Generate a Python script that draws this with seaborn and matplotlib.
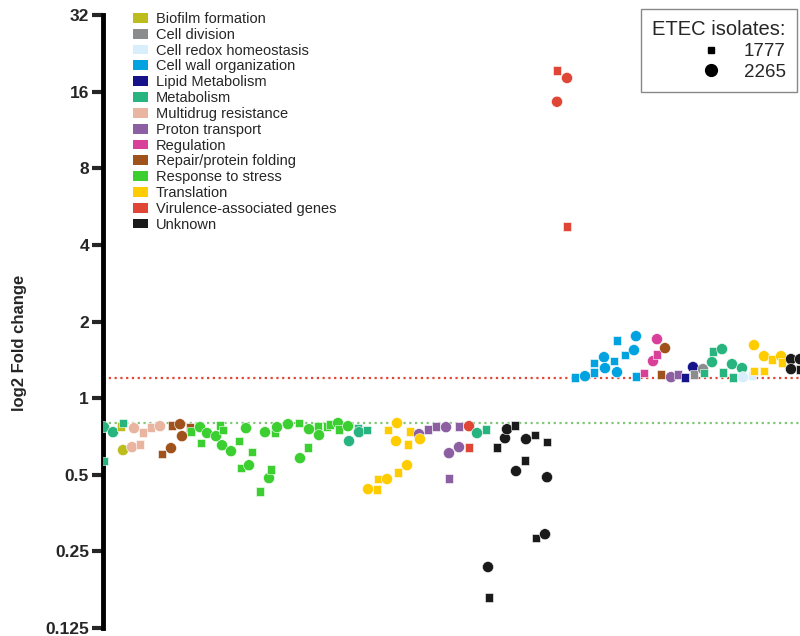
import numpy as np
import pandas as pd
import matplotlib
matplotlib.use("Agg")
import matplotlib.pyplot as plt
from matplotlib.patches import Patch
from matplotlib.lines import Line2D
from matplotlib.ticker import NullLocator, FixedLocator, FixedFormatter
import seaborn as sns

sns.set_style("ticks")
plt.rcParams['font.family'] = ['Liberation Sans', 'DejaVu Sans']

categories = ["Biofilm formation", "Cell division", "Cell redox homeostasis",
              "Cell wall organization", "Lipid Metabolism", "Metabolism",
              "Multidrug resistance", "Proton transport", "Regulation",
              "Repair/protein folding", "Response to stress", "Translation",
              "Virulence-associated genes", "Unknown"]
colors = ["#BCBC1C", "#8A8C8E", "#D8EEFA", "#00A3E0", "#15128A", "#27B47E",
          "#E9B5A1", "#8C5FA3", "#D8409A", "#A0521D", "#3CCF32", "#FFCC00",
          "#E04636", "#1A1A1A"]
isolates = ["1777", "2265"]

# gene position (x), fold change (y), category, isolate
metab_x = [4, 13, 23, 4, 258, 259, 267, 249, 377, 386, 604, 613, 622, 612, 623, 632, 633, 642]
metab_y = [0.769, 0.735, 0.798, 0.566, 0.762, 0.735, 0.749, 0.678, 0.729, 0.755,
           1.254, 1.530, 1.558, 1.385, 1.265, 1.360, 1.209, 1.312]
metab_i = ["2265", "2265", "1777", "1777", "1777", "2265", "1777", "2265", "2265", "1777",
           "1777", "1777", "2265", "2265", "1777", "2265", "1777", "2265"]

biofilm_x = [21, 23]
biofilm_y = [0.776, 0.625]
biofilm_i = ["1777", "2265"]

multi_x = [34, 43, 51, 60, 32, 40]
multi_y = [0.762, 0.735, 0.769, 0.776, 0.642, 0.659]
multi_i = ["2265", "1777", "1777", "2265", "2265", "1777"]

repair_x = [72, 80, 82, 90, 62, 71, 565, 561]
repair_y = [0.783, 0.790, 0.709, 0.769, 0.603, 0.636, 1.572, 1.242]
repair_i = ["1777", "2265", "2265", "1777", "1777", "2265", "2265", "1777"]

stress_x = [100, 91, 107, 120, 123, 116, 101, 122, 131, 139, 146, 152, 149, 141, 171, 169,
            160, 165, 175, 177, 188, 199, 209, 218, 227, 230, 219, 208, 200, 238, 239, 248]
stress_y = [0.769, 0.742, 0.729, 0.783, 0.749, 0.709, 0.666, 0.653, 0.619, 0.678, 0.762,
            0.614, 0.545, 0.531, 0.526, 0.485, 0.431, 0.735, 0.729, 0.769, 0.790, 0.798,
            0.755, 0.776, 0.776, 0.790, 0.716, 0.642, 0.581, 0.798, 0.755, 0.776]
stress_i = ["2265", "1777", "2265", "1777", "1777", "2265", "1777", "2265", "2265", "1777",
            "2265", "1777", "2265", "1777", "1777", "2265", "1777", "2265", "1777", "2265",
            "2265", "1777", "2265", "1777", "1777", "1777", "2265", "1777", "2265", "2265",
            "1777", "2265"]

transl_x = [297, 288, 310, 296, 308, 320, 307, 298, 287, 278, 268, 277,
            654, 654, 664, 664, 672, 681, 682]
transl_y = [0.798, 0.749, 0.742, 0.678, 0.659, 0.690, 0.545, 0.512, 0.481, 0.481, 0.439, 0.439,
            1.615, 1.277, 1.277, 1.462, 1.423, 1.462, 1.385]
transl_i = ["2265", "1777", "1777", "2265", "1777", "2265", "2265", "1777", "2265", "1777",
            "2265", "1777", "2265", "1777", "1777", "2265", "1777", "2265", "1777"]

proton_x = [319, 328, 336, 346, 359, 359, 349, 349, 571, 578]
proton_y = [0.722, 0.755, 0.776, 0.769, 0.776, 0.642, 0.608, 0.485, 1.209, 1.242]
proton_i = ["2265", "1777", "1777", "2265", "1777", "2265", "2265", "1777", "2265", "1777"]

vir_x = [369, 369, 457, 467, 457, 467]
vir_y = [0.776, 0.642, 19.4, 18.1, 14.6, 4.74]
vir_i = ["2265", "1777", "1777", "2265", "2265", "1777"]

unk_x = [415, 407, 405, 397, 426, 435, 447, 425, 416, 447, 445, 436, 388, 389, 691, 691, 700, 700]
unk_y = [0.783, 0.755, 0.696, 0.642, 0.690, 0.716, 0.672, 0.570, 0.517, 0.489, 0.292, 0.282,
         0.217, 0.165, 1.423, 1.300, 1.423, 1.300]
unk_i = ["1777", "2265", "2265", "1777", "2265", "1777", "1777", "1777", "2265", "2265",
         "2265", "1777", "2265", "1777", "2265", "2265", "2265", "1777"]

wall_x = [475, 485, 494, 494, 504, 505, 514, 517, 517, 525, 534, 536, 536]
wall_y = [1.209, 1.220, 1.265, 1.373, 1.449, 1.312, 1.398, 1.265, 1.690, 1.476, 1.544, 1.752, 1.220]
wall_i = ["1777", "2265", "1777", "1777", "2265", "2265", "1777", "2265", "1777", "1777",
          "2265", "2265", "1777"]

reg_x = [544, 557, 557, 553]
reg_y = [1.254, 1.705, 1.489, 1.398]
reg_i = ["1777", "2265", "1777", "2265"]

lipid_x = [585, 593]
lipid_y = [1.209, 1.324]
lipid_i = ["1777", "2265"]

div_x = [594, 603]
div_y = [1.242, 1.300]
div_i = ["1777", "2265"]

redox_x = [643, 652]
redox_y = [1.209, 1.231]
redox_i = ["2265", "1777"]

groups = [
    ("Metabolism", metab_x, metab_y, metab_i),
    ("Biofilm formation", biofilm_x, biofilm_y, biofilm_i),
    ("Multidrug resistance", multi_x, multi_y, multi_i),
    ("Repair/protein folding", repair_x, repair_y, repair_i),
    ("Response to stress", stress_x, stress_y, stress_i),
    ("Translation", transl_x, transl_y, transl_i),
    ("Proton transport", proton_x, proton_y, proton_i),
    ("Virulence-associated genes", vir_x, vir_y, vir_i),
    ("Unknown", unk_x, unk_y, unk_i),
    ("Cell wall organization", wall_x, wall_y, wall_i),
    ("Regulation", reg_x, reg_y, reg_i),
    ("Lipid Metabolism", lipid_x, lipid_y, lipid_i),
    ("Cell division", div_x, div_y, div_i),
    ("Cell redox homeostasis", redox_x, redox_y, redox_i),
]
rows = []
for cat, xs, ys, iss in groups:
    for x, y, i in zip(xs, ys, iss):
        rows.append({"pos": x, "fc": y, "category": cat, "isolate": i})
df = pd.DataFrame(rows).sort_values("pos", kind="stable")

palette = dict(zip(categories, colors))

fig = plt.figure(figsize=(8, 6.36), dpi=100)
ax = fig.add_axes([103 / 800, 1 - 628 / 636, (800 - 103) / 800, (628 - 15) / 636])

ax.axhline(1.2, color="#E04636", ls=(0, (1, 1.6)), lw=1.6, zorder=1)
ax.axhline(0.8, color="#80C878", ls=(0, (1, 1.6)), lw=1.6, zorder=1)

sns.scatterplot(data=df, x="pos", y="fc", hue="category", style="isolate",
                markers={"1777": "s", "2265": "o"}, palette=palette,
                size="isolate", sizes={"1777": 40, "2265": 64},
                edgecolor="white", linewidth=0.4, legend=False, ax=ax, zorder=3)

ax.set_yscale("log", base=2)
ax.set_ylim(0.125, 32)
ax.set_xlim(3, 700)
yt = [0.125, 0.25, 0.5, 1, 2, 4, 8, 16, 32]
ytl = ["0.125", "0.25", "0.5", "1", "2", "4", "8", "16", "32"]
ax.yaxis.set_major_locator(FixedLocator(yt))
ax.yaxis.set_major_formatter(FixedFormatter(ytl))
ax.yaxis.set_minor_locator(NullLocator())
ax.set_xticks([])
ax.set_xlabel("")
for s in ["top", "right", "bottom"]:
    ax.spines[s].set_visible(False)
ax.spines["left"].set_linewidth(3.5)
ax.spines["left"].set_color("black")
ax.tick_params(axis="y", width=3, length=8, labelsize=12.5, pad=2)
for lab in ax.get_yticklabels():
    lab.set_fontweight("bold")
ax.set_ylabel("log2 Fold change", fontsize=12, fontweight="bold")
ax.yaxis.set_label_coords(20 / 800 - 103 / 800, 0.46, transform=fig.transFigure)
ax.yaxis.label.set_position((20 / 800, 1 - 343 / 636))
ax.yaxis.label.set_transform(fig.transFigure)
ax.yaxis.label.set_va("center")

handles = [Patch(facecolor=c, edgecolor="none") for c in colors]
leg1 = ax.legend(handles, categories, loc="upper left",
                 bbox_to_anchor=(133 / 800, 1 - 12 / 636), bbox_transform=fig.transFigure,
                 frameon=False, borderpad=0, borderaxespad=0, handlelength=1.0,
                 handleheight=0.65, handletextpad=0.55, labelspacing=0.125, fontsize=10.5)
ax.add_artist(leg1)

iso_handles = [Line2D([], [], marker="s", color="black", ls="none", markersize=5),
               Line2D([], [], marker="o", color="black", ls="none", markersize=8.5)]
leg2 = ax.legend(iso_handles, isolates, title="ETEC isolates:", loc="upper right",
                 bbox_to_anchor=(797 / 800, 1 - 9 / 636), bbox_transform=fig.transFigure,
                 frameon=True, fancybox=False, framealpha=1, edgecolor="#888888",
                 alignment="right", borderpad=0.6, borderaxespad=0, handlelength=2.0,
                 handletextpad=0.75, labelspacing=0.2, fontsize=13.5, title_fontsize=14.5)
leg2.get_frame().set_linewidth(1.0)

fig.savefig("out.png", dpi=100)
